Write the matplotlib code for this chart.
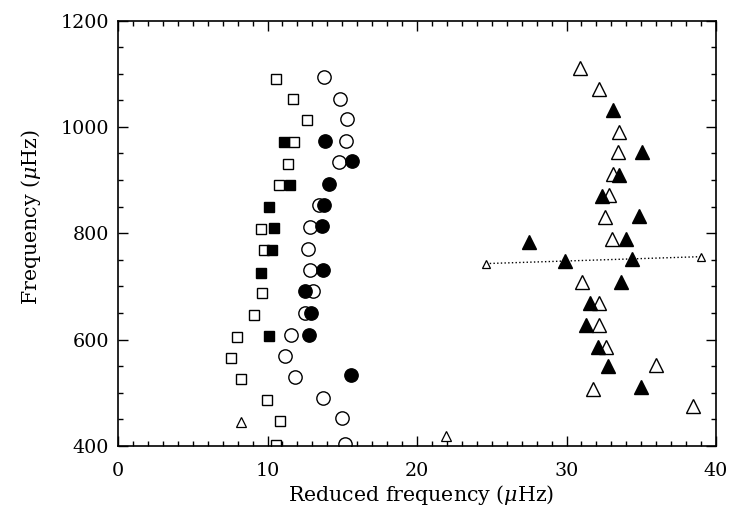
import matplotlib
matplotlib.use("Agg")
import matplotlib.pyplot as plt
from matplotlib.ticker import MultipleLocator

plt.rcParams['font.family'] = ['DejaVu Serif']
plt.rcParams['mathtext.fontset'] = 'dejavuserif'

# l=1 ridge (squares)
open_sq_x = [10.55, 10.84, 9.94, 8.25, 7.58, 7.98, 9.10, 9.63, 9.77, 9.59,
             10.79, 11.39, 11.77, 12.66, 11.73, 10.57]
open_sq_y = [402, 447, 486, 526, 565, 605, 647, 688, 768, 808,
             890, 930, 971, 1013, 1052, 1090]
fill_sq_x = [10.12, 9.57, 10.28, 10.43, 10.12, 11.51, 11.13]
fill_sq_y = [606, 726, 768, 809, 849, 890, 971]

# l=0 ridge (circles)
open_ci_x = [15.18, 14.98, 13.73, 11.84, 11.17, 11.57, 12.51, 13.02, 12.84,
             12.71, 12.84, 13.42, 14.76, 15.23, 15.30, 14.85, 13.78]
open_ci_y = [404, 452, 490, 530, 569, 609, 651, 691, 731,
             771, 812, 853, 934, 974, 1014, 1053, 1093]
fill_ci_x = [15.61, 12.80, 12.91, 12.51, 13.73, 13.62, 13.80, 14.14, 15.63, 13.85]
fill_ci_y = [533, 609, 651, 691, 731, 813, 853, 893, 935, 974]

# l=2 ridge (triangles)
open_tr_x = [38.48, 31.75, 35.99, 32.64, 32.20, 32.15, 31.06, 33.07, 32.60,
             32.82, 33.09, 33.47, 33.51, 32.19, 30.92]
open_tr_y = [475, 508, 552, 587, 628, 669, 708, 790, 830,
             871, 912, 952, 991, 1071, 1110]
fill_tr_x = [34.96, 32.80, 32.09, 31.28, 31.60, 33.64, 29.87, 34.36, 27.51,
             33.96, 34.87, 32.37, 33.49, 35.07, 33.13]
fill_tr_y = [511, 550, 587, 628, 669, 709, 747, 752, 783,
             790, 833, 870, 910, 953, 1031]

# small triangles
small_tr_x = [8.23, 21.92]
small_tr_y = [445, 418]
link_x = [24.62, 39.0]
link_y = [743, 756]

fig = plt.figure(figsize=(7.44, 5.23), dpi=100)
ax = fig.add_axes([0.1586, 0.1472, 0.8038, 0.8136])

ax.plot(open_sq_x, open_sq_y, 's', ms=7.2, mfc='white', mec='black', mew=1.0, ls='none')
ax.plot(open_ci_x, open_ci_y, 'o', ms=9.6, mfc='white', mec='black', mew=1.0, ls='none')
ax.plot(open_tr_x, open_tr_y, '^', ms=10.5, mfc='white', mec='black', mew=1.0, ls='none')
ax.plot(small_tr_x, small_tr_y, '^', ms=6.5, mfc='white', mec='black', mew=0.9, ls='none')
ax.plot(link_x, link_y, ':', color='black', lw=1.0)
ax.plot(link_x, link_y, '^', ms=6.0, mfc='white', mec='black', mew=0.9, ls='none')

ax.plot(fill_sq_x, fill_sq_y, 's', ms=7.2, mfc='black', mec='black', ls='none')
ax.plot(fill_ci_x, fill_ci_y, 'o', ms=9.6, mfc='black', mec='black', ls='none')
ax.plot(fill_tr_x, fill_tr_y, '^', ms=10.5, mfc='black', mec='black', ls='none')

ax.set_xlim(0, 40)
ax.set_ylim(400, 1200)
ax.xaxis.set_major_locator(MultipleLocator(10))
ax.xaxis.set_minor_locator(MultipleLocator(1))
ax.yaxis.set_major_locator(MultipleLocator(200))
ax.yaxis.set_minor_locator(MultipleLocator(50))
ax.tick_params(which='both', direction='in', top=True, right=True, width=1.0)
ax.tick_params(which='major', length=7.2, labelsize=13.8)
ax.tick_params(which='minor', length=3.6)
ax.tick_params(axis='x', which='major', pad=11.5)
ax.tick_params(axis='y', which='major', pad=6.5)
for s in ax.spines.values():
    s.set_linewidth(1.2)

ax.set_xlabel(r'Reduced frequency ($\mu$Hz)', fontsize=14.8)
ax.set_ylabel(r'Frequency ($\mu$Hz)', fontsize=14.8)
ax.xaxis.set_label_coords(0.507, -0.087)
ax.yaxis.set_label_coords(-0.125, 0.538)

fig.savefig('out.png', dpi=100)
